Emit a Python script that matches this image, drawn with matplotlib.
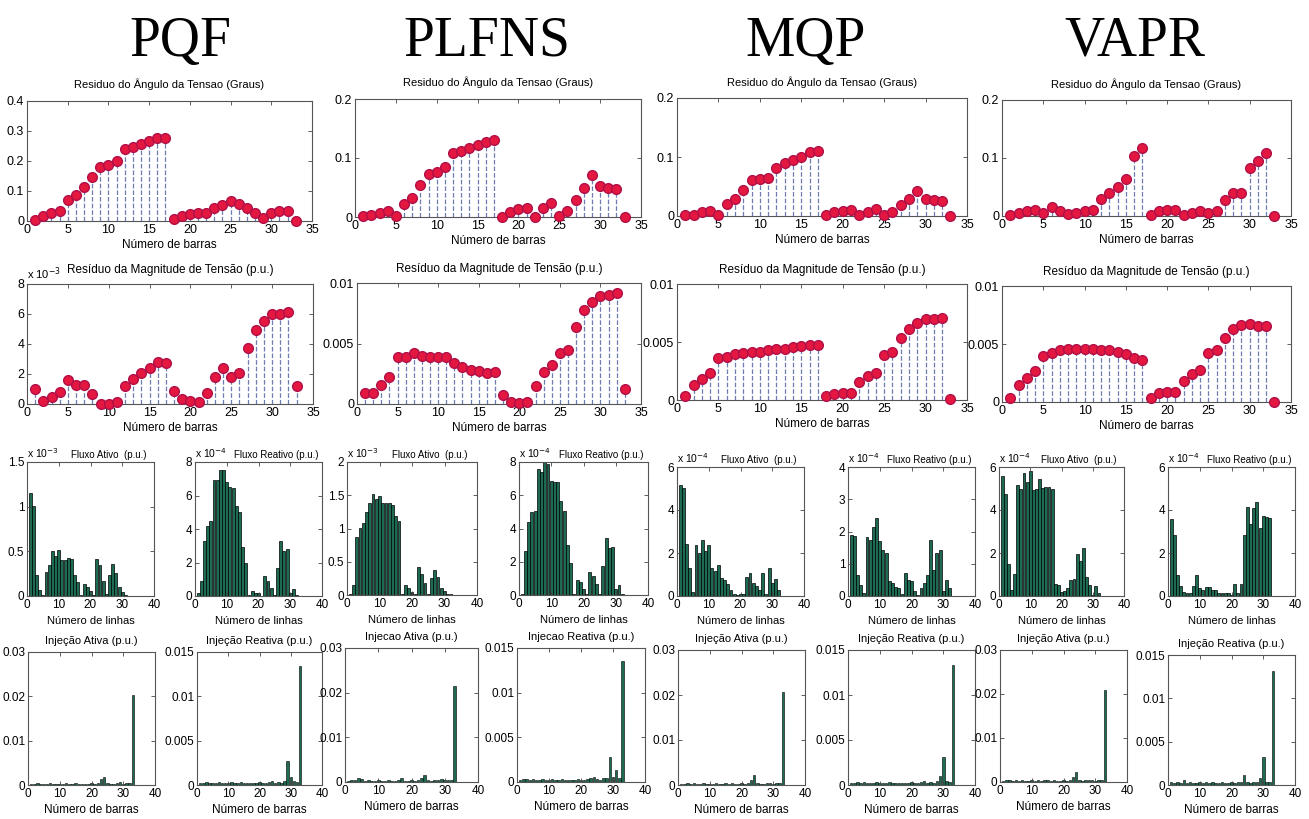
import matplotlib
matplotlib.use('Agg')
import matplotlib.pyplot as plt
from matplotlib.ticker import FuncFormatter

plt.rcParams['font.family'] = ['Liberation Sans', 'DejaVu Sans']

# ---- data -------------------------------------------------------------
methods = ['PQF', 'PLFNS', 'MQP', 'VAPR']
buses = list(range(1, 34))
lines = list(range(1, 33))

# angle residual (degrees), 33 buses
ang_pqf = [0.002, 0.015, 0.025, 0.032, 0.070, 0.085, 0.112, 0.148, 0.180, 0.187, 0.200,
           0.240, 0.247, 0.257, 0.267, 0.277, 0.277, 0.005, 0.018, 0.022, 0.026, 0.026,
           0.042, 0.052, 0.066, 0.056, 0.043, 0.028, 0.010, 0.026, 0.032, 0.032, 0.000]
ang_plfns = [0.001, 0.003, 0.006, 0.010, 0.001, 0.022, 0.033, 0.054, 0.073, 0.076, 0.084,
             0.108, 0.112, 0.117, 0.122, 0.127, 0.130, 0.000, 0.009, 0.014, 0.016, 0.000,
             0.016, 0.024, 0.001, 0.011, 0.029, 0.050, 0.072, 0.052, 0.050, 0.048, 0.000]
ang_mqp = [0.001, 0.002, 0.007, 0.009, 0.002, 0.020, 0.028, 0.044, 0.061, 0.062, 0.065,
           0.082, 0.090, 0.095, 0.100, 0.109, 0.111, 0.001, 0.007, 0.009, 0.011, 0.002,
           0.006, 0.012, 0.001, 0.007, 0.018, 0.028, 0.043, 0.029, 0.027, 0.025, 0.000]
ang_vapr = [0.002, 0.006, 0.008, 0.011, 0.005, 0.016, 0.008, 0.004, 0.006, 0.008, 0.011,
            0.029, 0.039, 0.050, 0.063, 0.104, 0.118, 0.001, 0.008, 0.011, 0.011, 0.002,
            0.006, 0.009, 0.006, 0.009, 0.027, 0.040, 0.040, 0.083, 0.095, 0.108, 0.000]

# voltage magnitude residual (x 1e-3 p.u.)
mag_pqf = [0.98, 0.20, 0.45, 0.82, 1.60, 1.30, 1.30, 0.67, 0.02, 0.02, 0.11, 1.22, 1.67,
           2.07, 2.38, 2.82, 2.76, 0.87, 0.31, 0.20, 0.11, 0.71, 1.78, 2.38, 1.78, 2.04,
           3.76, 4.96, 5.56, 6.02, 6.02, 6.15, 1.20]
mag_plfns = [0.89, 0.95, 1.59, 2.20, 3.90, 3.90, 4.18, 3.98, 3.87, 3.87, 3.87, 3.37, 3.09,
             2.81, 2.76, 2.56, 2.65, 0.75, 0.20, 0.10, 0.20, 1.45, 2.62, 3.23, 4.18, 4.46,
             6.40, 7.80, 8.41, 8.94, 9.03, 9.14, 1.22]
mag_mqp = [0.34, 1.29, 1.81, 2.36, 3.62, 3.71, 3.97, 4.08, 4.17, 4.17, 4.28, 4.43, 4.43,
           4.54, 4.63, 4.74, 4.77, 0.34, 0.49, 0.63, 0.63, 1.55, 2.07, 2.36, 3.91, 4.11,
           5.34, 6.12, 6.61, 7.01, 7.01, 7.07, 0.05]
mag_vapr = [0.38, 1.48, 2.04, 2.63, 3.99, 4.23, 4.44, 4.56, 4.53, 4.56, 4.53, 4.44, 4.44,
            4.32, 4.14, 3.79, 3.58, 0.38, 0.77, 0.86, 0.86, 1.83, 2.40, 2.72, 4.23, 4.44,
            5.56, 6.30, 6.60, 6.72, 6.57, 6.51, 0.03]

# line flow residuals, in units of the axis exponent
fp_pqf = [1.15, 1.01, 0.23, 0.07, 0.01, 0.27, 0.35, 0.50, 0.45, 0.52, 0.40, 0.40, 0.43, 0.41,
          0.23, 0.16, 0.01, 0.13, 0.10, 0.06, 0.01, 0.41, 0.35, 0.17, 0.02, 0.23, 0.36, 0.26,
          0.10, 0.05, 0.01, 0.005]
fq_pqf = [0.20, 0.90, 3.30, 4.20, 4.50, 6.90, 6.90, 7.50, 7.55, 6.80, 6.50, 6.45, 5.40, 5.00,
          2.90, 1.95, 0.05, 0.27, 0.15, 0.15, 0.02, 1.20, 0.90, 0.50, 0.07, 1.70, 3.30, 2.70,
          2.80, 0.20, 0.40, 0.05]
fp_plfns = [0.01, 0.15, 0.87, 1.01, 1.09, 1.25, 1.38, 1.52, 1.45, 1.49, 1.39, 1.39, 1.39, 1.35,
            1.19, 1.11, 0.02, 0.15, 0.11, 0.05, 0.01, 0.42, 0.31, 0.18, 0.02, 0.26, 0.38, 0.27,
            0.11, 0.06, 0.02, 0.01]
fq_plfns = [0.04, 2.65, 4.37, 4.97, 5.03, 7.58, 7.38, 7.98, 7.88, 6.88, 6.82, 6.78, 5.67, 5.07,
            3.02, 1.90, 0.04, 0.88, 0.80, 0.34, 0.08, 1.39, 1.15, 0.64, 0.04, 1.75, 3.40, 2.80,
            2.90, 0.38, 0.58, 0.04]
fp_mqp = [5.18, 5.02, 2.43, 1.32, 0.20, 2.38, 1.99, 2.61, 2.07, 2.36, 1.32, 1.14, 1.45, 0.86,
          0.75, 0.54, 0.28, 0.08, 0.05, 0.08, 0.08, 0.87, 1.06, 0.59, 0.47, 0.28, 1.09, 0.09,
          1.32, 0.59, 0.79, 0.28]
fq_mqp = [1.90, 1.87, 0.66, 0.34, 0.10, 1.84, 1.75, 2.13, 2.43, 1.72, 1.43, 1.34, 0.47, 0.39,
          0.29, 0.24, 0.06, 0.72, 0.51, 0.46, 0.16, 0.03, 0.24, 0.39, 0.64, 1.74, 0.80, 1.34,
          1.43, 0.16, 0.51, 0.26]
fp_vapr = [5.60, 4.74, 1.48, 0.27, 1.03, 5.15, 4.97, 5.73, 5.30, 5.80, 4.92, 4.97, 5.45, 5.02,
           5.08, 5.09, 5.00, 0.55, 0.50, 0.20, 0.24, 0.35, 0.73, 0.80, 1.97, 1.64, 2.21, 0.88,
           0.50, 0.05, 0.45, 0.12]
fq_vapr = [3.60, 2.84, 0.99, 0.46, 0.20, 0.15, 0.15, 0.46, 0.96, 0.35, 0.30, 0.40, 0.40, 0.27,
           0.27, 0.15, 0.12, 0.15, 0.12, 0.05, 0.58, 0.15, 0.58, 2.84, 4.12, 3.36, 4.09, 4.35,
           3.17, 3.70, 3.69, 3.65]

# bus injection residuals (p.u.)
ip_pqf = [0.0003, 0.0003, 0.0004, 0.0003, 0.0003, 0.0002, 0.0004, 0.0003, 0.0002, 0.0003, 0.0003,
          0.0004, 0.0003, 0.0003, 0.0004, 0.0003, 0.0003, 0.0003, 0.0003, 0.0004, 0.0003, 0.0004,
          0.0013, 0.0019, 0.0004, 0.0003, 0.0003, 0.0004, 0.0006, 0.0003, 0.0005, 0.0004, 0.0203]
iq_pqf = [0.0002, 0.0002, 0.0003, 0.0002, 0.0002, 0.0002, 0.0003, 0.0002, 0.0002, 0.0002, 0.0003,
          0.0002, 0.0002, 0.0003, 0.0002, 0.0002, 0.0002, 0.0002, 0.0002, 0.0003, 0.0002, 0.0002,
          0.0003, 0.0004, 0.0002, 0.0003, 0.0002, 0.0004, 0.0027, 0.0009, 0.0004, 0.0003, 0.0134]
ip_plfns = [0.0003, 0.0004, 0.0004, 0.0008, 0.0006, 0.0003, 0.0004, 0.0003, 0.0003, 0.0004, 0.0003,
            0.0003, 0.0004, 0.0003, 0.0003, 0.0004, 0.0010, 0.0003, 0.0003, 0.0004, 0.0003, 0.0005,
            0.0010, 0.0015, 0.0004, 0.0003, 0.0004, 0.0004, 0.0006, 0.0004, 0.0005, 0.0004, 0.0215]
iq_plfns = [0.0002, 0.0003, 0.0003, 0.0002, 0.0003, 0.0002, 0.0002, 0.0003, 0.0002, 0.0002, 0.0003,
            0.0002, 0.0002, 0.0003, 0.0002, 0.0002, 0.0002, 0.0002, 0.0003, 0.0002, 0.0002, 0.0003,
            0.0004, 0.0006, 0.0003, 0.0002, 0.0004, 0.0005, 0.0028, 0.0006, 0.0013, 0.0004, 0.0136]
ip_mqp = [0.0003, 0.0003, 0.0004, 0.0003, 0.0004, 0.0003, 0.0003, 0.0004, 0.0003, 0.0003, 0.0003,
          0.0004, 0.0003, 0.0003, 0.0004, 0.0003, 0.0004, 0.0003, 0.0003, 0.0004, 0.0003, 0.0005,
          0.0012, 0.0022, 0.0004, 0.0003, 0.0003, 0.0004, 0.0005, 0.0003, 0.0005, 0.0004, 0.0207]
iq_mqp = [0.0002, 0.0002, 0.0003, 0.0002, 0.0003, 0.0002, 0.0002, 0.0002, 0.0003, 0.0002, 0.0002,
          0.0002, 0.0003, 0.0002, 0.0002, 0.0002, 0.0002, 0.0002, 0.0002, 0.0003, 0.0002, 0.0002,
          0.0003, 0.0005, 0.0002, 0.0003, 0.0002, 0.0004, 0.0010, 0.0031, 0.0004, 0.0003, 0.0133]
ip_vapr = [0.0003, 0.0004, 0.0004, 0.0003, 0.0005, 0.0003, 0.0004, 0.0003, 0.0003, 0.0004, 0.0003,
           0.0004, 0.0003, 0.0004, 0.0004, 0.0003, 0.0004, 0.0003, 0.0003, 0.0004, 0.0003, 0.0005,
           0.0012, 0.0022, 0.0004, 0.0003, 0.0004, 0.0004, 0.0005, 0.0003, 0.0005, 0.0004, 0.0210]
iq_vapr = [0.0003, 0.0002, 0.0003, 0.0002, 0.0006, 0.0002, 0.0003, 0.0002, 0.0002, 0.0003, 0.0002,
           0.0003, 0.0002, 0.0003, 0.0002, 0.0002, 0.0003, 0.0002, 0.0002, 0.0003, 0.0002, 0.0003,
           0.0004, 0.0012, 0.0003, 0.0002, 0.0004, 0.0004, 0.0008, 0.0032, 0.0004, 0.0003, 0.0132]

angles = [ang_pqf, ang_plfns, ang_mqp, ang_vapr]
mags = [mag_pqf, mag_plfns, mag_mqp, mag_vapr]
flows = [(fp_pqf, -3, fq_pqf, -4), (fp_plfns, -3, fq_plfns, -4),
         (fp_mqp, -4, fq_mqp, -4), (fp_vapr, -4, fq_vapr, -4)]
injs = [(ip_pqf, iq_pqf), (ip_plfns, iq_plfns), (ip_mqp, iq_mqp), (ip_vapr, iq_vapr)]

ang_ylim = [0.4, 0.2, 0.2, 0.2]
flow_lims = [(1.5, [0, 0.5, 1, 1.5], 8, [0, 2, 4, 6, 8]),
             (2.0, [0, 0.5, 1, 1.5, 2], 8, [0, 2, 4, 6, 8]),
             (6, [0, 2, 4, 6], 4, [0, 1, 2, 3, 4]),
             (6, [0, 2, 4, 6], 6, [0, 2, 4, 6])]
inj_titles = [('Injeção Ativa (p.u.)', 'Injeção Reativa (p.u.)'),
              ('Injecao Ativa (p.u.)', 'Injecao Reativa (p.u.)'),
              ('Injeção Ativa (p.u.)', 'Injeção Reativa (p.u.)'),
              ('Injeção Ativa (p.u.)', 'Injeção Reativa (p.u.)')]

# ---- layout (pixel boxes: left, top, right, bottom) -------------------
W, H = 1309, 819
head_x = [180, 487, 806, 1135]
box_ang = [(27, 101, 312, 221), (355, 99, 641, 217), (677, 98, 967, 216), (1002, 100, 1291, 216)]
box_mag = [(27, 284, 313, 404), (357, 283, 641, 404), (677, 284, 967, 400), (1002, 286, 1291, 402)]
box_flow = [((27, 462, 154, 596), (195, 462, 322, 596)),
            ((347, 462, 477, 595), (519, 462, 648, 595)),
            ((677, 467, 804, 596), (848, 467, 975, 596)),
            ((999, 467, 1124, 596), (1168, 467, 1295, 596))]
box_inj = [((28, 652, 155, 785), (197, 652, 322, 785)),
           ((345, 648, 478, 782), (517, 648, 645, 782)),
           ((678, 650, 805, 785), (848, 650, 975, 785)),
           ((1000, 650, 1127, 782), (1168, 655, 1295, 785))]

RED = '#e3173f'
STEM = '#6e7cb2'
GREEN = '#1c6b52'

fig = plt.figure(figsize=(W / 100, H / 100), dpi=100)


def add_ax(box, labelsize=9):
    l, t, r, b = box
    ax = fig.add_axes([l / W, 1 - b / H, (r - l) / W, (b - t) / H])
    ax.tick_params(direction='in', top=True, right=True, length=3, width=0.6,
                   color='#444444', labelsize=labelsize, pad=2)
    for s in ax.spines.values():
        s.set_color('#555555')
        s.set_linewidth(0.8)
    return ax


def scaled(ax, exp, size=8):
    f = 10.0 ** exp
    ax.yaxis.set_major_formatter(FuncFormatter(lambda v, p: '%g' % round(v / f, 6)))
    ax.text(0, 1.015, r'x 10$^{%d}$' % exp, transform=ax.transAxes,
            ha='left', va='bottom', fontsize=size)


def stem(ax, vals, factor=1.0):
    y = [v * factor for v in vals]
    ml, sl, bl = ax.stem(buses, y, linefmt='--', markerfmt='o', basefmt=' ')
    plt.setp(sl, color=STEM, linewidth=0.9)
    plt.setp(ml, markerfacecolor=RED, markeredgecolor='#b01048', markersize=7,
             clip_on=False, zorder=3)
    ax.set_xlim(0, 35)
    ax.set_xticks(range(0, 36, 5))
    ax.set_xlabel('Número de barras', fontsize=8.5, labelpad=2)


for i, name in enumerate(methods):
    fig.text(head_x[i] / W, 1 - 42 / H, name, ha='center', va='center',
             fontsize=40, family='Liberation Serif')

    # angle residual
    ax = add_ax(box_ang[i])
    stem(ax, angles[i])
    top = ang_ylim[i]
    ax.set_ylim(0, top)
    ax.set_yticks([k * 0.1 for k in range(int(round(top / 0.1)) + 1)])
    ax.yaxis.set_major_formatter(FuncFormatter(lambda v, p: '%g' % round(v, 4)))
    ax.set_title('Residuo do Ângulo da Tensao (Graus)', fontsize=8, pad=9)

    # magnitude residual
    ax = add_ax(box_mag[i])
    stem(ax, mags[i], 1e-3)
    if i == 0:
        ax.set_ylim(0, 8e-3)
        ax.set_yticks([0, 2e-3, 4e-3, 6e-3, 8e-3])
        scaled(ax, -3, 8)
    else:
        ax.set_ylim(0, 0.01)
        ax.set_yticks([0, 0.005, 0.01])
        ax.yaxis.set_major_formatter(FuncFormatter(lambda v, p: '%g' % round(v, 4)))
    ax.set_title('Resíduo da Magnitude de Tensão (p.u.)', fontsize=8.5, pad=8)

    # line flows
    fp, ep, fq, eq = flows[i]
    ptop, pticks, qtop, qticks = flow_lims[i]
    for j, (vals, e, ytop, yt, ttl) in enumerate([
            (fp, ep, ptop, pticks, 'Fluxo Ativo  (p.u.)'),
            (fq, eq, qtop, qticks, 'Fluxo Reativo (p.u.)')]):
        ax = add_ax(box_flow[i][j], labelsize=8.5)
        f = 10.0 ** e
        ax.bar(lines, [v * f for v in vals], width=0.9, color=GREEN,
               edgecolor='black', linewidth=0.5)
        ax.set_xlim(0, 40)
        ax.set_xticks([0, 10, 20, 30, 40])
        ax.set_ylim(0, ytop * f)
        ax.set_yticks([t * f for t in yt])
        scaled(ax, e, 7.5)
        ax.text(0.64, 1.015, ttl, transform=ax.transAxes, ha='center', va='bottom',
                fontsize=7)
        ax.set_xlabel('Número de linhas', fontsize=8, labelpad=4)

    # injections
    ip, iq = injs[i]
    for j, (vals, ytop, yt) in enumerate([
            (ip, 0.03, [0, 0.01, 0.02, 0.03]),
            (iq, 0.015, [0, 0.005, 0.01, 0.015])]):
        ax = add_ax(box_inj[i][j], labelsize=8.5)
        ax.bar(buses, vals, width=0.8, color=GREEN, edgecolor='black', linewidth=0.4)
        ax.set_xlim(0, 40)
        ax.set_xticks([0, 10, 20, 30, 40])
        ax.set_ylim(0, ytop)
        ax.set_yticks(yt)
        ax.yaxis.set_major_formatter(FuncFormatter(lambda v, p: '%g' % round(v, 4)))
        ax.set_title(inj_titles[i][j], fontsize=8, pad=6)
        ax.set_xlabel('Número de barras', fontsize=8.5, labelpad=3)

fig.savefig('out.png', dpi=100)
